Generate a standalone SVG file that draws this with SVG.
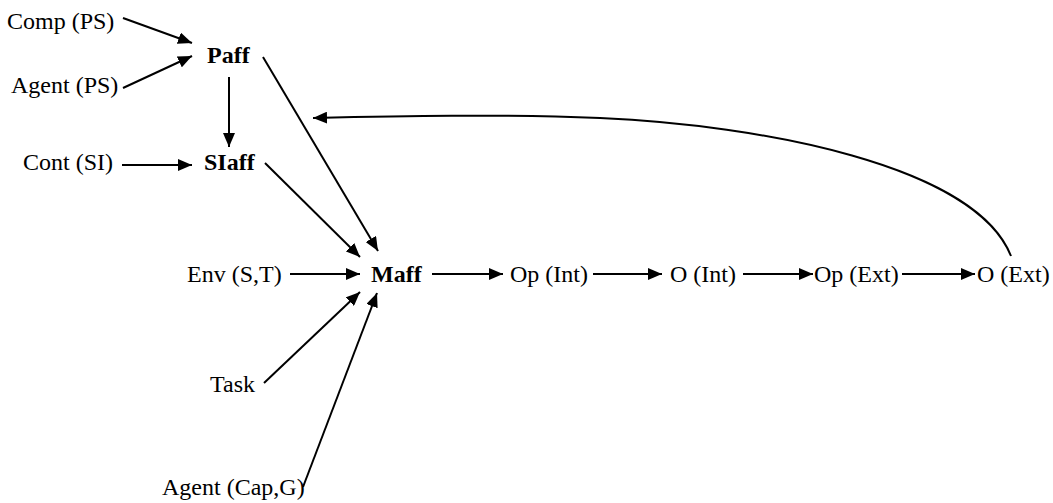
<svg xmlns="http://www.w3.org/2000/svg" width="1053" height="503" viewBox="0 0 1053 503">
<style>
text{font-family:"Liberation Serif","Times New Roman",serif;font-size:24px;fill:#000}
.b{font-weight:bold}
.c line,.c path{stroke:#000;stroke-width:2;fill:none;marker-end:url(#ah)}
</style>
<defs>
<marker id="ah" markerUnits="userSpaceOnUse" markerWidth="16" markerHeight="12" refX="14" refY="6" orient="auto">
<path d="M0,0 L14,6 L0,12 Z" fill="#000"/>
</marker>
</defs>
<rect width="1053" height="503" fill="#fff"/>
<g id="comp"><text x="7" y="29">Comp (PS)</text></g>
<g id="agentps"><text x="11" y="93">Agent (PS)</text></g>
<g id="paff"><text class="b" x="207" y="63">Paff</text></g>
<g id="cont"><text x="23" y="170">Cont (SI)</text></g>
<g id="siaff"><text class="b" x="204" y="170">SIaff</text></g>
<g id="env"><text x="187" y="282">Env (S,T)</text></g>
<g id="maff"><text class="b" x="371" y="282">Maff</text></g>
<g id="opint"><text x="510" y="282">Op (Int)</text></g>
<g id="oint"><text x="670" y="282">O (Int)</text></g>
<g id="opext"><text x="814" y="282">Op (Ext)</text></g>
<g id="oext"><text x="977" y="282">O (Ext)</text></g>
<g id="task"><text x="210" y="392">Task</text></g>
<g id="agentcap"><text x="162" y="495">Agent (Cap,G)</text></g>
<g class="c" id="connectors">
<line x1="123" y1="18" x2="192" y2="43"/>
<line x1="123" y1="88" x2="192" y2="56"/>
<line x1="229" y1="77" x2="229" y2="147"/>
<line x1="122" y1="165" x2="192" y2="165"/>
<line x1="263" y1="57" x2="378" y2="251"/>
<line x1="265" y1="163" x2="360" y2="257"/>
<line x1="290" y1="274" x2="360" y2="274"/>
<line x1="432" y1="274" x2="503" y2="274"/>
<line x1="593" y1="274" x2="662" y2="274"/>
<line x1="743" y1="274" x2="813" y2="274"/>
<line x1="902" y1="274" x2="975" y2="274"/>
<line x1="264" y1="383" x2="360" y2="292"/>
<line x1="303" y1="487" x2="377" y2="293"/>
<path d="M1011,256 C975,165 760,125 600,118 C500,114 400,116 313,118"/>
</g>
</svg>
